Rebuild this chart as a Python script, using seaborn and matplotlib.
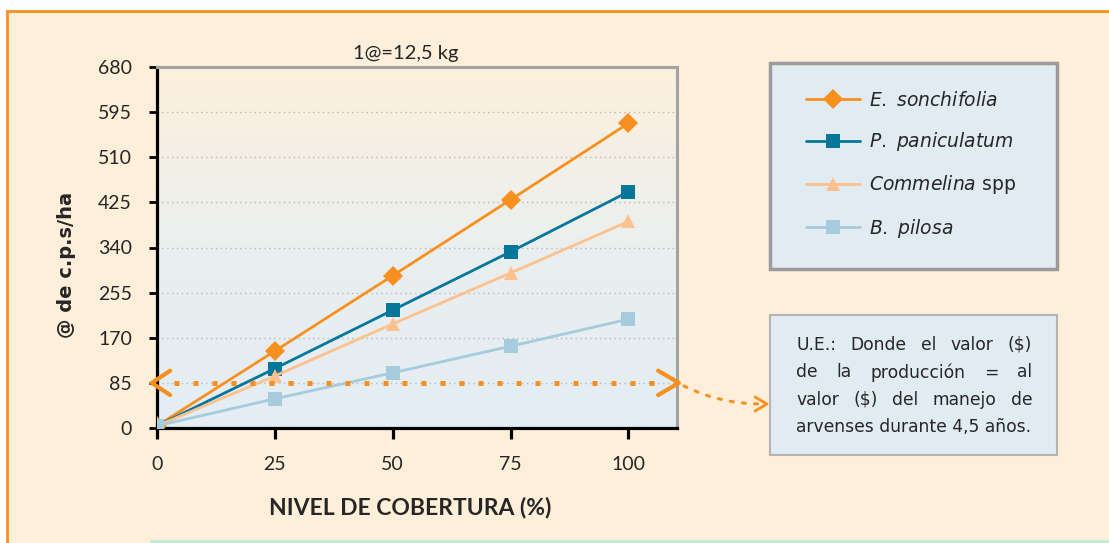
import numpy as np
import pandas as pd
import matplotlib.pyplot as plt
import seaborn as sns
from matplotlib.patches import Rectangle, FancyArrowPatch
from matplotlib.lines import Line2D
from matplotlib.colors import LinearSegmentedColormap

# ---------------------------------------------------------------- data
nivel = [0, 25, 50, 75, 100]
e_sonchifolia = [4, 145, 287, 430, 574]
p_paniculatum = [4, 112, 222, 332, 445]
commelina = [4, 98, 196, 292, 389]
b_pilosa = [4, 55, 104, 154, 205]

especies = ["E. sonchifolia", "P. paniculatum", "Commelina spp", "B. pilosa"]
etiquetas = [r"$\mathit{E.\ sonchifolia}$", r"$\mathit{P.\ paniculatum}$",
             r"$\mathit{Commelina}$ spp", r"$\mathit{B.\ pilosa}$"]
x_ticks = [0, 25, 50, 75, 100]
y_ticks = [0, 85, 170, 255, 340, 425, 510, 595, 680]
umbral = 85  # U.E.

nota = ["U.E.: Donde el valor (\\$)",
        "de la producción = al",
        "valor (\\$) del manejo de",
        "arvenses durante 4,5 años."]

df = pd.DataFrame({
    "nivel": nivel * 4,
    "valor": e_sonchifolia + p_paniculatum + commelina + b_pilosa,
    "especie": np.repeat(especies, len(nivel)),
})

# ---------------------------------------------------------------- style
orange = "#F7901E"
colores = {"E. sonchifolia": orange, "P. paniculatum": "#06779B",
           "Commelina spp": "#FDC18D", "B. pilosa": "#A6CBDD"}
marcadores = {"E. sonchifolia": "D", "P. paniculatum": "s",
              "Commelina spp": "^", "B. pilosa": "s"}
fondo = "#FEEFDA"
caja = "#E1EBF2"

sns.set_style("white")
plt.rcParams["font.family"] = ["Lato", "DejaVu Sans"]
plt.rcParams["mathtext.fontset"] = "dejavusans"

W, H = 1109, 543
fig = plt.figure(figsize=(W / 100, H / 100), dpi=100)
fig.patch.set_facecolor("white")


def fx(px):
    return px / W


def fy(py):
    return 1 - py / H


# orange frame of the figure
fig.add_artist(Rectangle((fx(7), fy(620)), 1.0, (620 - 11) / H, transform=fig.transFigure,
                         facecolor=fondo, edgecolor=orange, lw=2, zorder=-2))
fig.add_artist(Line2D([fx(152), 1.0], [fy(541.5), fy(541.5)], transform=fig.transFigure,
                      color="#C3E9D3", lw=3, solid_capstyle="round", zorder=-1))

# ---------------------------------------------------------------- plot
ax = fig.add_axes([fx(157), fy(428), fx(677) - fx(157), fy(67) - fy(428)])
grad = np.linspace(0, 1, 256).reshape(-1, 1)
cmap = LinearSegmentedColormap.from_list("bg", ["#E3EDF4", "#EAEFEF", "#FDF0DC"])
ax.imshow(grad, cmap=cmap, extent=[0, 1, 0, 1], transform=ax.transAxes,
          aspect="auto", origin="lower", zorder=0)

sns.lineplot(data=df, x="nivel", y="valor", hue="especie", style="especie",
             palette=colores, markers=marcadores, dashes=False, markersize=10,
             markeredgewidth=0, linewidth=2, legend=False, ax=ax, zorder=3)
handles = list(ax.get_lines()[:4])

ax.set_xlim(0, 110.3)
ax.set_ylim(0, 680)
ax.set_xticks(x_ticks)
ax.set_yticks(y_ticks)
ax.set_xlabel("")
ax.set_ylabel("")
ax.yaxis.grid(True, color="#B8B8B8", linestyle=(0, (1, 2.5)), lw=1)
ax.xaxis.grid(False)
ax.set_axisbelow(True)

for s in ["left", "bottom"]:
    ax.spines[s].set_color("black")
    ax.spines[s].set_linewidth(2.3)
for s in ["top", "right"]:
    ax.spines[s].set_color("#A3A3A3")
    ax.spines[s].set_linewidth(2.2)
ax.tick_params(axis="x", bottom=True, length=8, width=2.3, pad=12, labelsize=14, color="black")
ax.tick_params(axis="y", left=True, length=6, width=2, pad=12, labelsize=14, color="black")

# U.E. dotted line with chevrons
ax.plot([3.5, 106], [umbral, umbral], color=orange, lw=3.6, ls=(0, (1, 2.8)),
        dash_capstyle="butt", clip_on=False, zorder=4)
ax.plot([2.8, -1.1, 2.8], [umbral + 23, umbral, umbral - 23], color=orange, lw=3,
        clip_on=False, zorder=4)
ax.plot([106.3, 110.7, 106.3], [umbral + 23, umbral, umbral - 23], color=orange, lw=3,
        clip_on=False, zorder=4)

# texts around the plot
fig.text(fx(406), fy(53), "1@=12,5 kg", ha="center", va="center", fontsize=14.5)
fig.text(fx(410), fy(507), "NIVEL DE COBERTURA (%)", ha="center", va="center",
         fontsize=16.5, fontweight="bold")
fig.text(fx(66), fy(265), "@ de c.p.s/ha", ha="center", va="center", rotation=90,
         fontsize=14, fontweight="bold", family="DejaVu Sans")

# ---------------------------------------------------------------- legend
fig.add_artist(Rectangle((fx(770), fy(269)), fx(1057) - fx(770), fy(63) - fy(269),
                         transform=fig.transFigure, facecolor=caja, edgecolor="#9B9B9B",
                         lw=2.5, zorder=1))
fig.legend(handles, etiquetas, loc="upper left", bbox_to_anchor=(fx(806), fy(91)),
           bbox_transform=fig.transFigure, frameon=False,
           prop={"family": "DejaVu Sans", "size": 13.5},
           handlelength=2.9, handletextpad=0.45, labelspacing=1.08,
           borderpad=0, borderaxespad=0)

# ---------------------------------------------------------------- note box
fig.add_artist(Rectangle((fx(770), fy(455)), fx(1057) - fx(770), fy(315) - fy(455),
                         transform=fig.transFigure, facecolor=caja, edgecolor="#B4B4B4",
                         lw=1.5, zorder=1))
renderer = fig.canvas.get_renderer()
x0, x1 = 796, 1032
fuente_nota = {"fontsize": 12.3, "family": "DejaVu Sans", "zorder": 2}
for i, linea in enumerate(nota):
    y = fy(345 + i * 27.3)
    if i == len(nota) - 1:
        fig.text(fx(x0), y, linea, ha="left", va="center", **fuente_nota)
        continue
    palabras = linea.split()
    textos = [fig.text(0, y, p, ha="left", va="center", **fuente_nota) for p in palabras]
    anchos = [t.get_window_extent(renderer).width for t in textos]
    hueco = (x1 - x0 - sum(anchos)) / (len(palabras) - 1)
    x = x0
    for t, a in zip(textos, anchos):
        t.set_x(fx(x))
        x += a + hueco

# dotted arrow from the U.E. line to the note
fig.add_artist(FancyArrowPatch((fx(684), fy(386)), (fx(764), fy(404)),
                               transform=fig.transFigure, arrowstyle="-",
                               connectionstyle="arc3,rad=0.12", color=orange, lw=2.2,
                               linestyle=(0, (1, 3)), shrinkA=0, shrinkB=0, zorder=2))
fig.add_artist(Line2D([fx(755), fx(767), fx(755)], [fy(397), fy(404), fy(411)],
                      transform=fig.transFigure, color=orange, lw=2, zorder=2))

fig.savefig("out.png", dpi=100)
